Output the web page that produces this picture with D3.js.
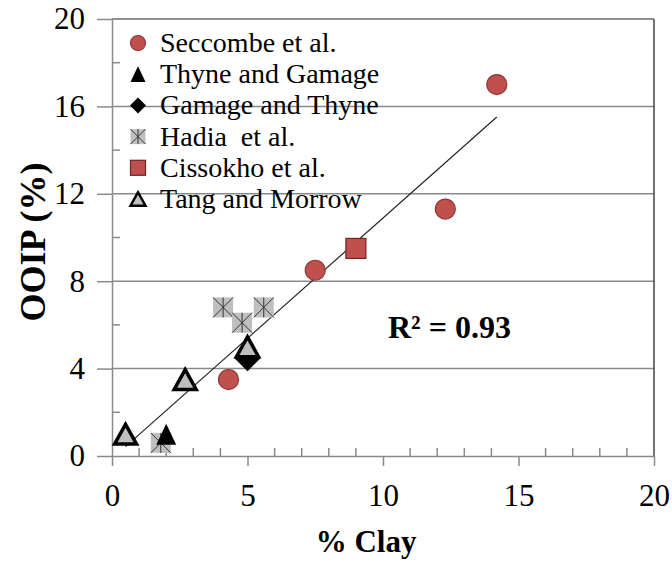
<!DOCTYPE html>
<html>
<head>
<meta charset="utf-8">
<script src="https://cdn.jsdelivr.net/npm/d3@7"></script>
<style>
  body { margin: 0; background: #fff; }
  text { font-family: "Liberation Serif", "Times New Roman", serif; white-space: pre; }
</style>
</head>
<body>
<script>
const width = 672;
const height = 562;

// data: [clay %, OOIP %]
const seccombe = [[4.3, 3.5], [7.5, 8.5], [12.3, 11.3], [14.2, 17.0]];
const thyneGamage = [[2.0, 1.0]];
const gamageThyne = [[5.0, 4.5]];
const hadia = [[4.1, 6.8], [4.8, 6.1], [5.6, 6.8], [1.8, 0.6]];
const cissokho = [[9.0, 9.5]];
const tangMorrow = [[0.5, 1.0], [2.7, 3.5], [5.0, 5.0]];

const legendNames = ["Seccombe et al.", "Thyne and Gamage", "Gamage and Thyne", "Hadia  et al.", "Cissokho et al.", "Tang and Morrow"];
const xTicks = [0, 5, 10, 15, 20];
const yTicks = [0, 4, 8, 12, 16, 20];
const rSquared = "R² = 0.93";

const x = d3.scaleLinear().domain([0, 20]).range([112, 654]);
const y = d3.scaleLinear().domain([0, 20]).range([456, 19]);

const svg = d3.select("body").append("svg")
    .attr("width", width)
    .attr("height", height);

const axisColor = "#8a8a8a";

// gridlines
svg.append("g")
    .selectAll("line")
    .data(yTicks.filter(d => d > 0))
    .join("line")
    .attr("x1", x(0))
    .attr("x2", x(20))
    .attr("y1", d => y(d))
    .attr("y2", d => y(d))
    .attr("stroke", axisColor)
    .attr("stroke-width", 1.5);

// right border
svg.append("line")
    .attr("x1", x(20)).attr("x2", x(20))
    .attr("y1", y(20)).attr("y2", y(0))
    .attr("stroke", "#444")
    .attr("stroke-width", 1.5);

// y axis
let yAxis = svg.append("g")
    .attr("transform", "translate(" + x(0) + ",0)")
    .call(d3.axisLeft(y).tickValues(yTicks).tickSize(15).tickSizeOuter(0).tickFormat(d3.format("d")));
yAxis.select(".domain").attr("stroke", axisColor).attr("stroke-width", 1.5);
yAxis.selectAll(".tick line").attr("stroke", axisColor).attr("stroke-width", 1.5);
yAxis.selectAll(".tick text")
    .attr("x", -27)
    .attr("font-size", 31)
    .attr("fill", "#000")
    .style("font-family", "Liberation Serif");
// y minor ticks (inside)
svg.append("g")
    .selectAll("line")
    .data(d3.range(2, 20, 4))
    .join("line")
    .attr("x1", x(0)).attr("x2", x(0) + 8)
    .attr("y1", d => y(d)).attr("y2", d => y(d))
    .attr("stroke", axisColor)
    .attr("stroke-width", 1.5);

// x axis
let xAxis = svg.append("g")
    .attr("transform", "translate(0," + y(0) + ")")
    .call(d3.axisBottom(x).tickValues(xTicks).tickSize(10).tickSizeOuter(0).tickFormat(d3.format("d")));
xAxis.select(".domain").attr("stroke", axisColor).attr("stroke-width", 1.5);
xAxis.selectAll(".tick line").attr("stroke", axisColor).attr("stroke-width", 1.5);
xAxis.selectAll(".tick text")
    .attr("y", 28)
    .attr("font-size", 31)
    .attr("fill", "#000")
    .style("font-family", "Liberation Serif");
// x minor ticks (inside)
svg.append("g")
    .selectAll("line")
    .data(d3.range(1, 20).filter(d => d % 5 !== 0))
    .join("line")
    .attr("x1", d => x(d)).attr("x2", d => x(d))
    .attr("y1", y(0)).attr("y2", y(0) - 8)
    .attr("stroke", axisColor)
    .attr("stroke-width", 1.5);

// top border
svg.append("line")
    .attr("x1", x(0)).attr("x2", x(20))
    .attr("y1", y(20)).attr("y2", y(20))
    .attr("stroke", axisColor)
    .attr("stroke-width", 1.5);

// axis titles
svg.append("text")
    .attr("x", 366)
    .attr("y", 552)
    .attr("text-anchor", "middle")
    .attr("font-size", 31)
    .attr("font-weight", "bold")
    .text("% Clay");
svg.append("text")
    .attr("transform", "translate(45,242) rotate(-90)")
    .attr("text-anchor", "middle")
    .attr("font-size", 36)
    .attr("font-weight", "bold")
    .text("OOIP (%)");

// trendline from least squares over all points
let allPts = [].concat(seccombe, thyneGamage, gamageThyne, hadia, cissokho, tangMorrow);
let mx = d3.mean(allPts, d => d[0]);
let my = d3.mean(allPts, d => d[1]);
let slope = d3.sum(allPts, d => (d[0] - mx) * (d[1] - my)) / d3.sum(allPts, d => (d[0] - mx) ** 2);
let icpt = my - slope * mx;
let xr = d3.extent(allPts, d => d[0]);
svg.append("line")
    .attr("x1", x(xr[0])).attr("y1", y(icpt + slope * xr[0]))
    .attr("x2", x(xr[1])).attr("y2", y(icpt + slope * xr[1]))
    .attr("stroke", "#222")
    .attr("stroke-width", 1.2);

// marker drawing
function triPath(s, hf) {
    let h = s * hf;
    return "M0," + (-h / 2) + "L" + (s / 2) + "," + (h / 2) + "L" + (-s / 2) + "," + (h / 2) + "Z";
}
function drawMarker(g, kind, s) {
    if (kind === "circle") {
        g.append("circle").attr("r", s / 2)
            .attr("fill", "#c0504d").attr("stroke", "#8c3836").attr("stroke-width", 1.2);
    } else if (kind === "tri") {
        g.append("path").attr("d", triPath(s, 1.05)).attr("fill", "#000");
    } else if (kind === "diamond") {
        g.append("path").attr("d", "M0," + (-s / 2) + "L" + (s / 2) + ",0L0," + (s / 2) + "L" + (-s / 2) + ",0Z")
            .attr("fill", "#000");
    } else if (kind === "star") {
        let h = s / 2;
        g.append("rect").attr("x", -h).attr("y", -h).attr("width", s).attr("height", s)
            .attr("fill", "#bfbfbf");
        g.append("path")
            .attr("d", "M" + (-h) + "," + (-h) + "L" + h + "," + h + "M" + h + "," + (-h) + "L" + (-h) + "," + h + "M0," + (-h) + "L0," + h)
            .attr("stroke", "#333").attr("stroke-width", 1);
    } else if (kind === "square") {
        g.append("rect").attr("x", -s / 2).attr("y", -s / 2).attr("width", s).attr("height", s)
            .attr("fill", "#c0504d").attr("stroke", "#6e2624").attr("stroke-width", 1.2);
    } else if (kind === "otri") {
        g.append("path").attr("d", triPath(s, 0.9)).attr("fill", "#bfbfbf")
            .attr("stroke", "#000").attr("stroke-width", s > 16 ? 3.5 : 2.5).attr("stroke-linejoin", "miter");
    }
}

const seriesList = [
    {pts: seccombe, kind: "circle", size: 20},
    {pts: thyneGamage, kind: "tri", size: 20},
    {pts: gamageThyne, kind: "diamond", size: 27},
    {pts: hadia, kind: "star", size: 20},
    {pts: cissokho, kind: "square", size: 20},
    {pts: tangMorrow, kind: "otri", size: 22}
];

// draw order so markers overlap as in the picture
[3, 0, 4, 1, 2, 5].forEach(i => {
    let s = seriesList[i];
    s.pts.forEach(p => {
        let g = svg.append("g").attr("transform", "translate(" + x(p[0]) + "," + y(p[1]) + ")");
        drawMarker(g, s.kind, s.size);
    });
});

// legend
let legend = svg.append("g");
legendNames.forEach((name, i) => {
    let cy = 43 + i * 31.2;
    let g = legend.append("g").attr("transform", "translate(138," + cy + ")");
    drawMarker(g, seriesList[i].kind, seriesList[i].kind === "diamond" ? 16 : 15);
    legend.append("text")
        .attr("x", 160)
        .attr("y", cy + 9)
        .attr("font-size", 28)
        .text(name);
});

// R squared label
svg.append("text")
    .attr("x", 388)
    .attr("y", 338)
    .attr("font-size", 32)
    .attr("font-weight", "bold")
    .text(rSquared);
</script>
</body>
</html>
